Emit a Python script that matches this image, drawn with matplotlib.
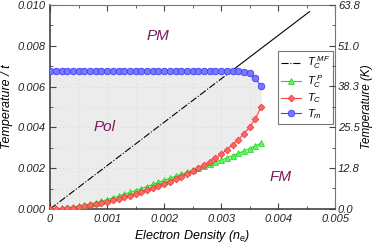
import numpy as np
import matplotlib
matplotlib.use('Agg')
import matplotlib.pyplot as plt

plt.rcParams['font.family'] = ['Liberation Sans', 'DejaVu Sans']
plt.rcParams['mathtext.fontset'] = 'custom'
plt.rcParams['mathtext.it'] = 'Liberation Sans:italic'
plt.rcParams['mathtext.rm'] = 'Liberation Sans:italic'

# electron density grid (step 0.0001)
n_e = [i * 0.0001 for i in range(38)]

# T_m (blue), in units of t
t_m = [0.00678] * 32 + [0.00678, 0.00676, 0.00673, 0.00665, 0.00641, 0.00603]

# T_C (red)
t_c = [0.00000, 0.00000, 0.00001, 0.00003, 0.00006, 0.00009, 0.00013, 0.00018,
       0.00023, 0.00029, 0.00035, 0.00042, 0.00049, 0.00057, 0.00065, 0.00073,
       0.00082, 0.00091, 0.00101, 0.00111, 0.00123, 0.00134, 0.00146, 0.00158,
       0.00172, 0.00186, 0.00199, 0.00216, 0.00232, 0.00249, 0.00268, 0.00291,
       0.00314, 0.00338, 0.00368, 0.00400, 0.00441, 0.00500]

# T_C^P (green)
t_cp = [0.00000, 0.00001, 0.00003, 0.00006, 0.00010, 0.00014, 0.00019, 0.00025,
        0.00031, 0.00038, 0.00046, 0.00054, 0.00063, 0.00072, 0.00081, 0.00090,
        0.00100, 0.00110, 0.00120, 0.00130, 0.00140, 0.00150, 0.00160, 0.00170,
        0.00180, 0.00190, 0.00200, 0.00210, 0.00220, 0.00230, 0.00240, 0.00250,
        0.00261, 0.00272, 0.00284, 0.00296, 0.00309, 0.00322]

# mean-field T_C line
mf_n = [0.0, 0.0032, 0.00455]
mf_t = [0.0, 0.0068, 0.00967]

kelvin_ticks = [0.0, 12.8, 25.5, 38.3, 51.0, 63.8]
x_ticks = [0, 0.001, 0.002, 0.003, 0.004, 0.005]
x_labels = ['0', '0.001', '0.002', '0.003', '0.004', '0.005']
y_ticks = [0.000, 0.002, 0.004, 0.006, 0.008, 0.010]

fig = plt.figure(figsize=(3.74, 2.47), dpi=100)
ax = fig.add_axes([0.134, 0.154, 0.762, 0.826])

poly = ax.fill_between(n_e, t_c, t_m, color='#ececec', lw=0, zorder=0)

# faint dotted grid, only inside the shaded region
for v in np.arange(0.0005, 0.005, 0.0005):
    l, = ax.plot([v, v], [0, 0.01], color='#cfcfcf', lw=0.6, ls=(0, (1, 4)), zorder=0.5)
    l.set_clip_path(poly.get_paths()[0], ax.transData)
for v in np.arange(0.001, 0.01, 0.001):
    l, = ax.plot([0, 0.005], [v, v], color='#cfcfcf', lw=0.6, ls=(0, (1, 4)), zorder=0.5)
    l.set_clip_path(poly.get_paths()[0], ax.transData)

ax.plot(mf_n[:2], mf_t[:2], color='black', lw=0.8, ls='-.', label=r'$T_C^{\ MF}$', zorder=2)
ax.plot(mf_n[1:], mf_t[1:], color='black', lw=0.8, ls='-', zorder=2)
ax.plot(n_e, t_cp, color='#22dd22', lw=0.8, marker='^', ms=4.5, mfc='#55ff55',
        mec='#22cc22', mew=0.5, label=r'$T_C^{\ P}$', zorder=3)
ax.plot(n_e, t_c, color='#ff4444', lw=0.8, marker='D', ms=3.5, mfc='#ff6666',
        mec='#ee3333', mew=0.5, label=r'$T_C$', zorder=3)
ax.plot(n_e, t_m, color='#4444ff', lw=0.8, marker='o', ms=4.8, mfc='#7777ff',
        mec='#3333ee', mew=0.5, label=r'$T_m$', zorder=3)

ax.text(0.0019, 0.0085, 'PM', color='#7a1a5e', fontsize=11, style='italic', ha='center', va='center')
ax.text(0.00096, 0.0040, 'Pol', color='#7a1a5e', fontsize=11, style='italic', ha='center', va='center')
ax.text(0.00404, 0.00157, 'FM', color='#7a1a5e', fontsize=11, style='italic', ha='center', va='center')

ax.set_xlim(0, 0.005)
ax.set_ylim(0, 0.010)
ax.set_xticks(x_ticks)
ax.set_xticklabels(x_labels)
ax.set_yticks(y_ticks)
ax.set_yticklabels(['%.3f' % v for v in y_ticks])
ax.set_xticks(np.arange(0, 0.0051, 0.0005), minor=True)
ax.set_yticks(np.arange(0, 0.0101, 0.001), minor=True)
ax.tick_params(which='both', direction='in', top=True, labelsize=8, color='#444444',
               labelcolor='#222222')
ax.tick_params(which='major', length=4)
ax.tick_params(which='minor', length=2.5)
for lab in ax.get_xticklabels() + ax.get_yticklabels():
    lab.set_style('italic')

ax.set_xlabel(r'Electron Density ($n_e$)', fontsize=9, style='italic', labelpad=3)
ax.set_ylabel('Temperature / t', fontsize=9, style='italic', labelpad=3)

for s in ['left', 'bottom']:
    ax.spines[s].set_color('#333333')
    ax.spines[s].set_linewidth(1.1)
for s in ['top', 'right']:
    ax.spines[s].set_color('#777777')
    ax.spines[s].set_linewidth(0.8)

ax2 = ax.twinx()
ax2.set_ylim(0, 63.8)
ax2.set_yticks(kelvin_ticks)
ax2.set_yticklabels(['%.1f' % v for v in kelvin_ticks])
ax2.set_yticks([6.4, 19.1, 31.9, 44.7, 57.4], minor=True)
ax2.tick_params(which='both', direction='in', labelsize=8, color='#444444', labelcolor='#222222',
                pad=2)
ax2.tick_params(which='major', length=4)
ax2.tick_params(which='minor', length=2.5)
for lab in ax2.get_yticklabels():
    lab.set_style('italic')
ax2.set_ylabel('Temperature (K)', fontsize=8.5, style='italic', labelpad=1)
for s in ax2.spines.values():
    s.set_visible(False)

leg = ax.legend(loc='upper left', bbox_to_anchor=(0.78, 0.80), fontsize=8,
                frameon=True, fancybox=False, edgecolor='#555555',
                handlelength=1.8, borderpad=0.3, labelspacing=0.15, handletextpad=0.5)
leg.get_frame().set_linewidth(0.8)

fig.savefig('out.png', dpi=100)
